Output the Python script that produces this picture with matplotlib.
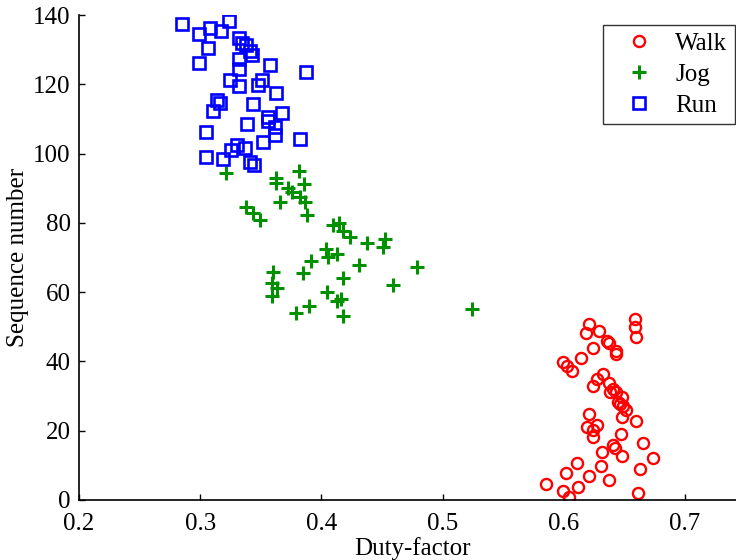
import matplotlib
matplotlib.use("Agg")
import matplotlib.pyplot as plt

walk_x = [0.6587, 0.6587, 0.6596, 0.6208, 0.6183, 0.6290, 0.6241, 0.6356, 0.6373, 0.6431,
          0.6431, 0.6142, 0.5993, 0.6026, 0.6068, 0.6323, 0.6274, 0.6241, 0.6373, 0.6406,
          0.6381, 0.6431, 0.6480, 0.6447, 0.6464, 0.6488, 0.6513, 0.6480, 0.6596, 0.6208,
          0.6191, 0.6241, 0.6274, 0.6241, 0.6472, 0.6653, 0.6406, 0.6422, 0.6480, 0.6315,
          0.6736, 0.6109, 0.6307, 0.6629, 0.6018, 0.6208, 0.6373, 0.5853, 0.6117, 0.5993,
          0.6612, 0.6043]
walk_y = [52.3, 49.9, 47.1, 50.8, 48.2, 48.8, 43.9, 45.9, 45.3, 43.0,
          42.1, 41.0, 39.8, 38.7, 37.2, 36.4, 34.9, 32.9, 33.8, 32.0,
          31.2, 31.2, 29.7, 28.3, 27.7, 27.1, 26.0, 24.0, 22.8, 24.8,
          21.1, 20.2, 21.7, 18.2, 19.1, 16.5, 15.9, 15.0, 12.7, 13.9,
          12.1, 10.7, 9.8, 8.9, 7.8, 6.9, 5.8, 4.6, 3.8, 2.6,
          2.0, 0.9]

jog_x = [0.3210, 0.3815, 0.3625, 0.3625, 0.3856, 0.3724, 0.3757, 0.3823, 0.3658, 0.3865,
         0.3881, 0.3378, 0.3436, 0.3493, 0.4096, 0.4145, 0.4178, 0.4236, 0.4376, 0.4525,
         0.4508, 0.4038, 0.4129, 0.4054, 0.3914, 0.4310, 0.4789, 0.3848, 0.4178, 0.4591,
         0.3600, 0.3592, 0.3634, 0.3592, 0.4046, 0.4129, 0.4162, 0.3898, 0.3790, 0.4178,
         0.5243]
jog_y = [94.4, 95.0, 93.0, 91.5, 91.2, 90.1, 88.9, 87.5, 86.0, 86.0,
         82.3, 84.6, 82.9, 80.8, 79.4, 80.0, 77.7, 75.9, 74.2, 75.3,
         73.0, 72.5, 71.0, 70.2, 69.0, 67.8, 67.3, 65.5, 64.1, 62.1,
         65.8, 62.6, 61.2, 58.9, 60.0, 57.4, 58.0, 56.0, 54.0, 53.1,
         55.1]

run_x = [0.2850, 0.3238, 0.3081, 0.3172, 0.2990, 0.3320, 0.3345, 0.3378, 0.3411, 0.3427,
         0.3064, 0.3320, 0.2990, 0.3576, 0.3873, 0.3320, 0.3246, 0.3510, 0.3477, 0.3320,
         0.3625, 0.3139, 0.3163, 0.3436, 0.3106, 0.3675, 0.3559, 0.3386, 0.3559, 0.3617,
         0.3048, 0.3617, 0.3823, 0.3518, 0.3304, 0.3370, 0.3254, 0.3188, 0.3048, 0.3411,
         0.3444]
run_y = [137.4, 138.3, 136.3, 135.4, 134.5, 133.4, 131.9, 131.4, 129.6, 128.5,
         130.5, 127.3, 126.2, 125.6, 123.6, 124.4, 121.2, 121.2, 119.8, 119.5,
         117.5, 115.5, 114.6, 114.3, 112.3, 111.7, 110.6, 108.5, 109.4, 107.7,
         106.2, 105.4, 104.2, 103.3, 102.5, 101.6, 101.0, 98.4, 99.0, 97.6,
         96.7]

labels = ["Walk", "Jog", "Run"]
x_ticks = [0.2, 0.3, 0.4, 0.5, 0.6, 0.7]
y_ticks = [0, 20, 40, 60, 80, 100, 120, 140]

plt.rcParams['font.family'] = ['Liberation Serif', 'DejaVu Serif']
FS = 18

fig = plt.figure(figsize=(7.36, 5.6), dpi=100)
W, H = 736, 560
ax_w = 0.55 * 1212 / W
ax = fig.add_axes([79 / W, 1 - 500 / H, ax_w, 485 / H])

ax.plot(walk_x, walk_y, linestyle='none', marker='o', markersize=8,
        markerfacecolor='none', markeredgecolor='#ff0000', markeredgewidth=1.7,
        label=labels[0])
ax.plot(jog_x, jog_y, linestyle='none', marker='+', markersize=10,
        color='#009000', markeredgewidth=2.2, label=labels[1])
ax.plot(run_x, run_y, linestyle='none', marker='s', markersize=9,
        markerfacecolor='none', markeredgecolor='#0000ff', markeredgewidth=1.9,
        label=labels[2])

ax.set_xlim(0.2, 0.75)
ax.set_ylim(0, 140)
ax.set_xticks(x_ticks)
ax.set_xticklabels([f"{t:.1f}" for t in x_ticks])
ax.set_yticks(y_ticks)
ax.tick_params(axis='both', direction='in', length=4.5, width=1, labelsize=FS)
ax.tick_params(axis='x', pad=9.5)
ax.tick_params(axis='y', pad=6)
ax.spines['top'].set_visible(False)
ax.spines['right'].set_visible(False)
for s in ('left', 'bottom'):
    ax.spines[s].set_linewidth(1.2)

ax.set_xlabel("Duty-factor", fontsize=FS, va='center')
ax.xaxis.set_label_coords(0.5, -0.1)
ax.set_ylabel("Sequence number", fontsize=FS, va='center')
ax.yaxis.set_label_coords(-0.0915, 0.5)

leg = fig.legend(loc='upper right', bbox_to_anchor=(734.5 / W, 1 - 25 / H),
                 fontsize=FS, frameon=True, fancybox=False, edgecolor='black',
                 numpoints=1, handlelength=2.3, handletextpad=0.3,
                 labelspacing=0.33, borderpad=0.3, borderaxespad=0)
leg.get_frame().set_linewidth(1.0)

fig.savefig("out.png", dpi=100)
